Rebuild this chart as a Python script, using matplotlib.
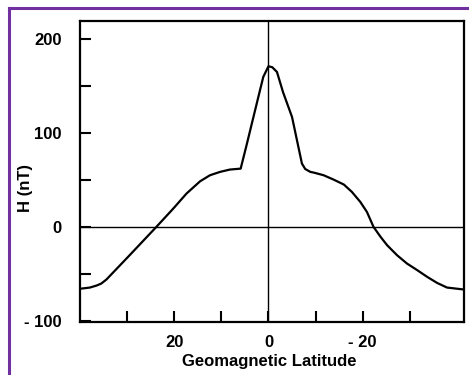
import numpy as np
import matplotlib
matplotlib.use("Agg")
import matplotlib.pyplot as plt
from matplotlib.lines import Line2D

plt.rcParams['font.family'] = ['Liberation Sans', 'DejaVu Sans']
plt.rcParams['font.weight'] = 'bold'

# H component vs geomagnetic latitude
latitude = [39.7, 37.9, 36.5, 35.5, 34.4, 29.4, 23.8, 20.2, 17.4, 14.5, 12.4,
            10.3, 8.2, 5.9, 4.6, 3.2, 1.8, 1.1, 0.0, -0.8, -1.8, -3.1, -5.0,
            -7.1, -7.8, -8.9, -9.6, -11.7, -13.8, -16.0, -17.7, -19.5,
            -20.9, -22.3, -23.8, -25.2, -27.3, -29.4, -31.6, -33.7, -35.8,
            -37.9, -41.5]
h_nt = [-65.5, -64.4, -62.3, -60.2, -55.9, -29.7, 0.0, 19.5, 35.4, 48.5, 54.9,
        58.4, 60.9, 61.9, 87.8, 116.5, 145.1, 159.3, 170.6, 169.6, 164.6,
        143.0, 116.8, 67.3, 61.5, 58.4, 57.7, 54.9, 50.3, 45.0, 37.2,
        26.5, 15.9, 0.0, -10.6, -19.5, -30.1, -38.9, -46.0, -53.1, -59.5,
        -64.4, -66.5]

xticks = [30, 20, 10, 0, -10, -20, -30]
xticklabels = ['', '20', '', '0', '', '- 20', '']
yticks = [200, 150, 100, 50, 0, -50, -100]
yticklabels = ['200', '', '100', '', '0', '', '- 100']

fig = plt.figure(figsize=(4.69, 3.75), dpi=100)
ax = fig.add_axes([0.1706, 0.1413, 0.8187, 0.8035])

ax.plot(latitude, h_nt, color='black', lw=1.6, solid_joinstyle='round')
ax.axhline(0, color='black', lw=1.0)
ax.axvline(0, color='black', lw=1.0)

ax.set_xlim(40, -41.5)
ax.set_ylim(-101, 219)
ax.set_xticks(xticks)
ax.set_xticklabels(xticklabels)
ax.set_yticks(yticks)
ax.set_yticklabels(yticklabels)
ax.tick_params(direction='in', length=8, width=1.5, labelsize=12)
ax.tick_params(axis='y', pad=13)
ax.tick_params(axis='x', pad=9)
for s in ax.spines.values():
    s.set_linewidth(1.6)

ax.set_xlabel('Geomagnetic Latitude', fontsize=12, fontweight='bold')
ax.set_ylabel('H (nT)', fontsize=12, fontweight='bold')
ax.xaxis.set_label_coords(0.4935, -0.132)
ax.yaxis.set_label_coords(-0.143, 0.445)
ax.xaxis.label.set_va('center')
ax.yaxis.label.set_va('center')

# purple frame (top and left edge only visible)
fig.add_artist(Line2D([9 / 469, 1], [1 - 8 / 375, 1 - 8 / 375], color='#7030a0', lw=2.2,
                      transform=fig.transFigure))
fig.add_artist(Line2D([9 / 469, 9 / 469], [0, 1 - 8 / 375], color='#7030a0', lw=2.2,
                      transform=fig.transFigure))

fig.savefig('out.png', dpi=100)
